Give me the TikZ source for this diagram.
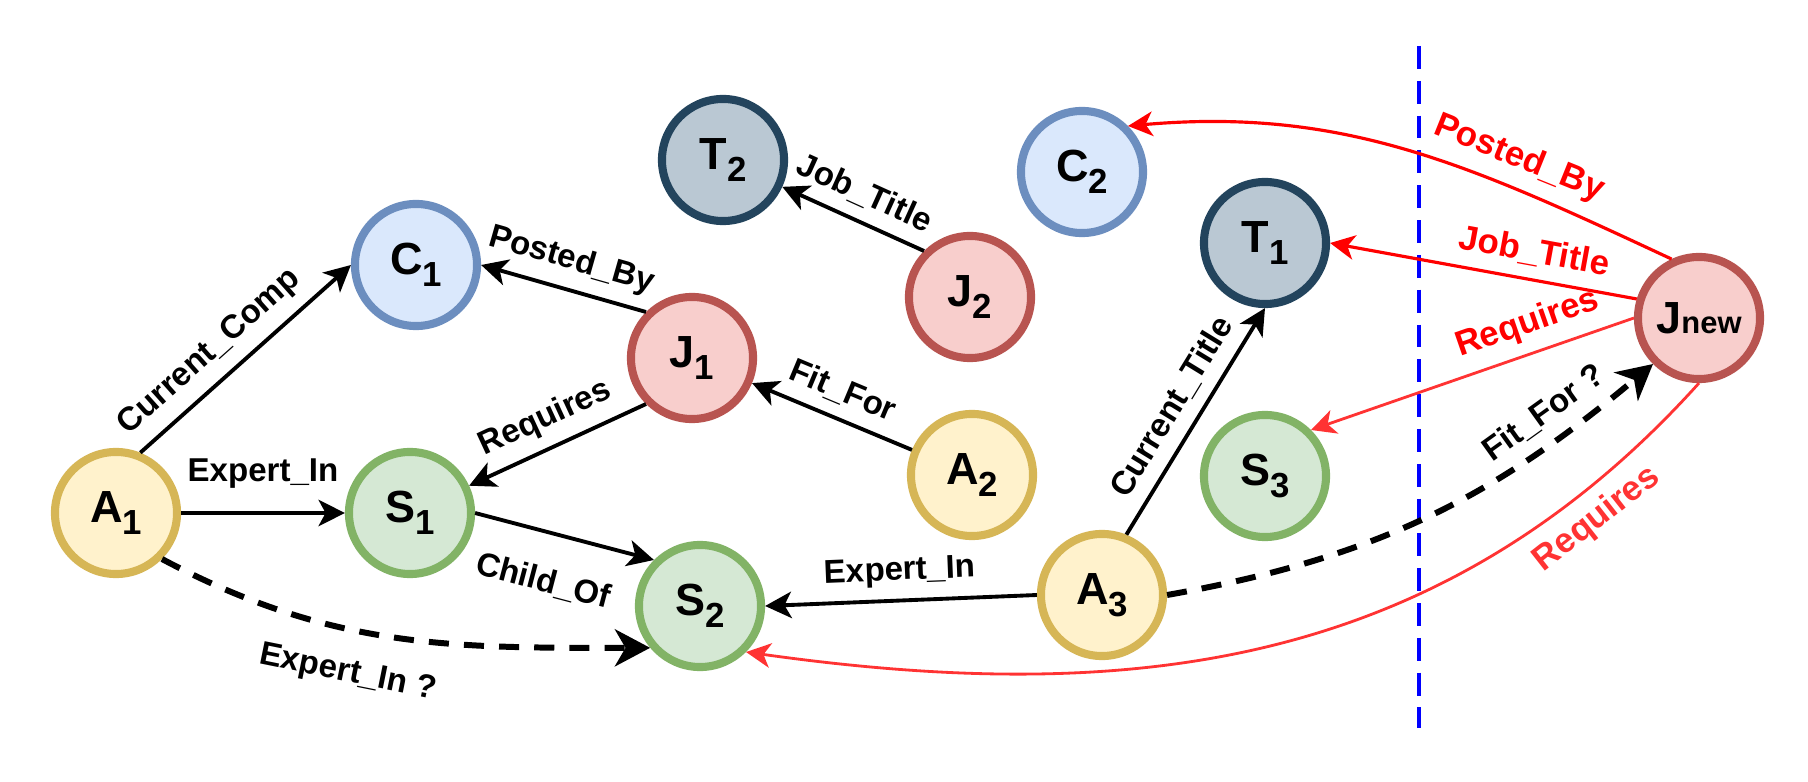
\documentclass[tikz,border=0pt]{standalone}
\usepackage{fontspec}
\setmainfont{Liberation Sans}
\usetikzlibrary{arrows.meta}
\definecolor{yfill}{HTML}{FFF2CC}\definecolor{ydraw}{HTML}{D6B656}
\definecolor{bfill}{HTML}{DAE8FC}\definecolor{bdraw}{HTML}{6C8EBF}
\definecolor{rfill}{HTML}{F8CECC}\definecolor{rdraw}{HTML}{B85450}
\definecolor{gfill}{HTML}{D5E8D4}\definecolor{gdraw}{HTML}{82B366}
\definecolor{tfill}{HTML}{BAC8D3}\definecolor{tdraw}{HTML}{23445D}
\definecolor{reqred}{HTML}{FF3333}
\newcommand{\lowsub}[1]{\raisebox{-0.27em}{\fontsize{9.9}{10}\selectfont #1}}
\tikzset{
  ent/.style={circle, draw, line width=2.3pt, minimum size=1.22cm, inner sep=0pt,
    font=\fontsize{12.8}{14}\selectfont\bfseries},
  app/.style={ent, draw=ydraw, fill=yfill},
  comp/.style={ent, draw=bdraw, fill=bfill},
  job/.style={ent, draw=rdraw, fill=rfill},
  skl/.style={ent, draw=gdraw, fill=gfill},
  ttl/.style={ent, draw=tdraw, fill=tfill},
  rel/.style={-{Stealth[length=7.5pt,width=7.5pt,inset=2pt]}, line width=1.1pt},
  guess/.style={-{Stealth[length=10pt,width=10.5pt,inset=3pt]}, line width=1.7pt,
    dash pattern=on 5.7pt off 4.3pt},
  relr/.style={-{Stealth[length=7pt,width=7pt,inset=2pt]}, line width=0.9pt, draw=red},
  relq/.style={relr, draw=reqred, line width=0.8pt},
  lbl/.style={font=\fontsize{9.4}{11}\selectfont\bfseries, sloped},
  lblr/.style={font=\fontsize{9.9}{11}\selectfont\bfseries, sloped, text=red},
  sep/.style={draw=blue, line width=1.4pt, dash pattern=on 6.5pt off 3.4pt}
}
\begin{document}
\begin{tikzpicture}[x=0.01cm,y=-0.01cm]
\useasboundingbox (0,0) rectangle (1808,782);
\coordinate (top) at (1419,46);
\coordinate (bot) at (1419,728);
\draw[sep] (top) -- (bot);
\node[app] (a1) at (116,513) {A\lowsub{1}};
\node[comp] (c1) at (416,265) {C\lowsub{1}};
\node[job] (j1) at (692,358) {J\lowsub{1}};
\node[skl] (s1) at (410,513) {S\lowsub{1}};
\node[skl] (s2) at (700,606) {S\lowsub{2}};
\node[ttl] (t2) at (723,160) {T\lowsub{2}};
\node[job] (j2) at (970,297) {J\lowsub{2}};
\node[comp] (c2) at (1082,172) {C\lowsub{2}};
\node[ttl] (t1) at (1265,243) {T\lowsub{1}};
\node[app] (a2) at (972,475) {A\lowsub{2}};
\node[skl] (s3) at (1265,476) {S\lowsub{3}};
\node[app] (a3) at (1102,595) {A\lowsub{3}};
\node[job] (jn) at (1699,318) {J{\fontsize{8.8}{10}\selectfont new}};
\draw[rel] (a1.68) -- node[lbl,above,pos=0.42] {Current\_Comp} (c1.west);
\draw[rel] (j1.north west) -- node[lbl,above] {Posted\_By} (c1.east);
\draw[rel] (j1.south west) -- node[lbl,above] {Requires} (s1);
\draw[rel] (a1.east) -- node[lbl,above=3pt] {Expert\_In} (s1.west);
\draw[rel] (s1.east) -- node[lbl,below=6pt,pos=0.45] {Child\_Of} (s2.north west);
\draw[guess] (a1.south east) to[out=-28,in=180] node[lbl,below=4pt,pos=0.41] {Expert\_In ?} (s2.220);
\draw[rel] (j2.north west) -- node[lbl,above] {Job\_Title} (t2);
\draw[rel] (a2) -- node[lbl,above] {Fit\_For} (j1);
\draw[rel] (a3.68) -- node[lbl,above] {Current\_Title} (t1.south);
\draw[rel] (a3.west) -- node[lbl,above] {Expert\_In} (s2.east);
\draw[guess] (a3.east) to[out=10,in=220] node[lbl,above,pos=0.8] {Fit\_For ?} (jn.south west);
% new job
\draw[relr] (jn.115) to[out=155,in=5] node[lblr,above,pos=0.3] {Posted\_By} (c2.north east);
\draw[relr] (jn.163) -- node[lblr,above,pos=0.35] {Job\_Title} (t1.east);
\draw[relq] (jn.west) -- node[lblr,above,pos=0.3] {Requires} (s3.north east);
\draw[relq] (jn.south) to[out=228,in=-8] node[lblr,below,text=reqred,pos=0.15] {Requires} (s2.south east);
\end{tikzpicture}
\end{document}
